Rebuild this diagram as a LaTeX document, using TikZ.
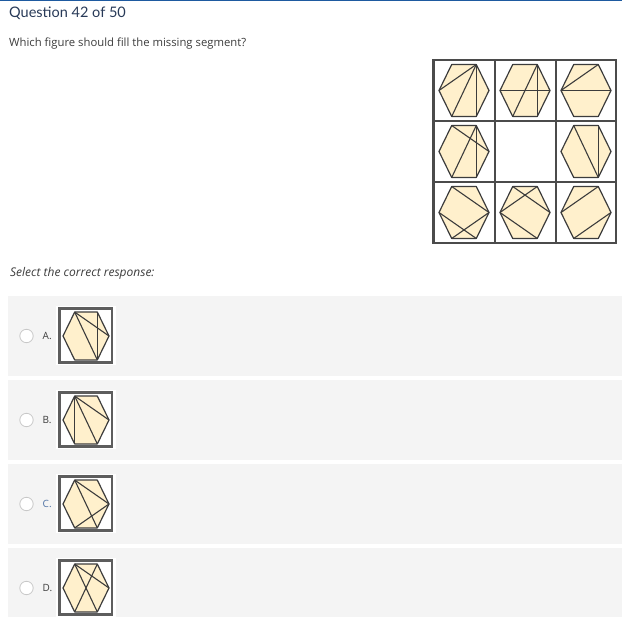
\documentclass[tikz,border=0pt]{standalone}
\usepackage{fontspec}
\setmainfont{Lato}
\newfontfamily\bodyfont{Open Sans}
\definecolor{hexfill}{RGB}{255,240,204}
\definecolor{hexline}{RGB}{60,60,60}
\definecolor{gridline}{RGB}{75,75,75}
\definecolor{panel}{RGB}{244,244,244}
\definecolor{topblue}{RGB}{30,90,160}
\definecolor{qtext}{RGB}{40,58,88}
\definecolor{bodytext}{RGB}{60,60,60}
\definecolor{radio}{RGB}{200,200,200}
\definecolor{clabel}{RGB}{80,115,165}
\tikzset{
  hexstroke/.style={draw=hexline, line width=1.2pt, line join=round},
  hexinner/.style={draw=hexline, line width=1.1pt},
  gridstroke/.style={draw=gridline, line width=2pt},
  optframe/.style={draw=gridline!90, line width=2.6pt},
  radiobtn/.style={draw=radio, fill=white, line width=0.8pt},
  optlabel/.style={anchor=west, inner sep=0pt, text=bodytext, font=\bodyfont\fontsize{10}{12}\selectfont},
}
\newcommand\hexfig[4]{%
  \begin{scope}[shift={(#1,#2)}, scale=#3]
    \coordinate (R) at (25,0);
    \coordinate (TR) at (12.3,-26);
    \coordinate (TL) at (-12.3,-26);
    \coordinate (L) at (-25,0);
    \coordinate (BL) at (-12.3,26);
    \coordinate (BR) at (12.3,26);
    \fill[hexfill] (R)--(TR)--(TL)--(L)--(BL)--(BR)--cycle;
    \foreach \a/\b in {#4} {\draw[hexinner] (\a)--(\b);}
    \draw[hexstroke] (R)--(TR)--(TL)--(L)--(BL)--(BR)--cycle;
  \end{scope}}
\newcommand\optrow[3]{% y center, label, lines
  \fill[panel] (8,#1-40) rectangle (622,#1+40);
  \draw[radiobtn] (26.5,#1) circle (6.7);
  \fill[white] (56,#1-30) rectangle (115.5,#1+29);
  \draw[optframe] (59.3,#1-27.5) rectangle (111.8,#1+26.5);
  \hexfig{86}{#1}{0.92}{#3}
}
\begin{document}
\begin{tikzpicture}[x=1pt,y=-1pt]
\useasboundingbox (0,0) rectangle (622,617);
\fill[white] (0,0) rectangle (622,617);
\fill[topblue] (0,0) rectangle (622,1.4);
\node[anchor=base west, inner sep=0pt, text=qtext, font=\fontsize{14.5}{17}\selectfont] (title) at (9,18) {Question 42 of 50};
\node[anchor=base west, inner sep=0pt, text=bodytext, font=\bodyfont\fontsize{11.3}{13}\selectfont] (question) at (9,46.5) {Which figure should fill the missing segment?};
\node[anchor=base west, inner sep=0pt, text=bodytext, font=\bodyfont\fontsize{12}{14}\itshape] (select) at (10,276.5) {Select the correct response:};
% grid
\hexfig{464}{90.5}{1}{TR/L, TR/BL, TR/BR}
\hexfig{525}{90.5}{1}{TR/BL, TR/BR, L/R}
\hexfig{586}{90.5}{1}{TR/L, L/R}
\hexfig{464}{151.5}{1}{TL/R, TR/BL, TR/BR}
\hexfig{586}{151.5}{1}{TL/BR, TR/BR}
\hexfig{464}{212.5}{1}{TL/R, L/BR, R/BL}
\hexfig{525}{212.5}{1}{TL/R, TR/L, L/BR}
\hexfig{586}{212.5}{1}{TR/L, R/BL}
\foreach \v in {494.5,555.5} {\draw[gridstroke] (\v,60) -- (\v,243);}
\foreach \v in {121,182} {\draw[gridstroke] (433.5,\v) -- (616,\v);}
\draw[gridstroke, line width=2.4pt] (433.5,60) rectangle (616,243);
% options
\optrow{336}{A}{TL/R, TL/BR, TR/BR}
\node[optlabel] (labA) at (42.5,336) {A.};
\optrow{420}{B}{TL/BL, TL/BR, TL/R}
\node[optlabel] (labB) at (42.5,420) {B.};
\optrow{504}{C}{TL/R, TL/BR, R/BL}
\node[optlabel, text=clabel] (labC) at (42.5,504) {C.};
\fill[panel] (8,548) rectangle (622,617);
\draw[radiobtn] (26.5,588) circle (6.7);
\fill[white] (56,558) rectangle (115.5,617);
\draw[optframe] (59.3,560.5) rectangle (111.8,614.5);
\hexfig{86}{588}{0.92}{TL/R, TL/BR, TR/BL}
\node[optlabel] (labD) at (42.5,588) {D.};
\end{tikzpicture}
\end{document}
